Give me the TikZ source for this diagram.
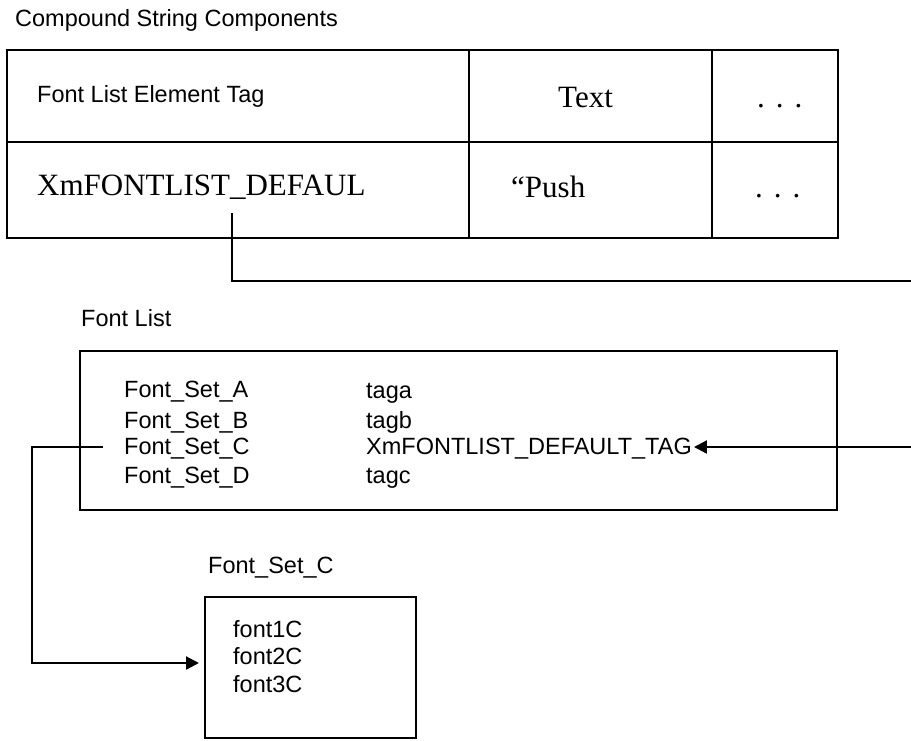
\documentclass[tikz,border=0pt]{standalone}
\usepackage{fontspec}
\newfontfamily\hv{Liberation Sans}
\newfontfamily\tm{Liberation Serif}
\usetikzlibrary{arrows.meta}
\tikzset{
  lbl/.style={anchor=base west, inner sep=0pt, font=\hv\fontsize{23.5}{28}\selectfont},
  slbl/.style={anchor=base west, inner sep=0pt, font=\tm\fontsize{31}{36}\selectfont},
  frame/.style={draw, line width=2.3pt, inner sep=0pt},
  tline/.style={line width=2.3pt},
  conn/.style={line width=2.2pt},
  tip/.style={-{Triangle[length=13pt,width=13pt]}}
}
\begin{document}
\begin{tikzpicture}[x=1pt,y=-1pt]
\useasboundingbox (0,0) rectangle (911,740);
\clip (0,0) rectangle (911,740);

% title
\node[lbl] (title) at (15,26) {Compound String Components};

% table
\coordinate (tnw) at (7,50);
\coordinate (tse) at (838,238);
\draw[tline] (tnw) rectangle (tse);
\draw[tline] (7,142) -- (838,142);
\draw[tline] (469,50) -- (469,238);
\draw[tline] (712,50) -- (712,238);

\node[lbl]  (tagh)  at (37,102)  {Font List Element Tag};
\node[slbl] (texth) at (558,107) {Text};
\node[slbl] (dots1) at (757,107) {.\hspace{11pt}.\hspace{11pt}.};
\node[slbl] (tagv)  at (37,195)  {XmFONTLIST\_DEFAUL};
\node[slbl] (push)  at (511,197) {“Push};
\node[slbl] (dots2) at (755,197) {.\hspace{11pt}.\hspace{11pt}.};

% font list
\node[lbl] (fl) at (81,326) {Font List};
\node[frame, minimum width=757pt, minimum height=159pt] (flbox) at (458.5,430.5) {};
\node[lbl] (fsa) at (124,397) {Font\_Set\_A};
\node[lbl] (fsb) at (124,428) {Font\_Set\_B};
\node[lbl] (fsc) at (124,454) {Font\_Set\_C};
\node[lbl] (fsd) at (124,483) {Font\_Set\_D};
\node[lbl] (taga) at (366,398) {taga};
\node[lbl] (tagb) at (366,428) {tagb};
\node[lbl] (fdef) at (366,454) {XmFONTLIST\_DEFAULT\_TAG};
\node[lbl] (tagc) at (366,483) {tagc};

% font set C
\node[lbl] (fscl) at (208,573) {Font\_Set\_C};
\node[frame, minimum width=211pt, minimum height=141pt] (fsbox) at (310.5,667.5) {};
\node[lbl] (f1) at (233,637) {font1C};
\node[lbl] (f2) at (233,664) {font2C};
\node[lbl] (f3) at (233,692) {font3C};

% connectors
\coordinate (c1s) at (232,213);
\coordinate (c1r) at (914,281);
\draw[conn,tip] (c1s) |- (c1r) |- ([xshift=2pt,yshift=7pt]fdef.base east);

\coordinate (c2c) at (32,447);
\coordinate (c2e) at (199,663);
\draw[conn,tip] ([xshift=-21pt,yshift=7pt]fsc.base west) -- (c2c) |- (c2e);
\end{tikzpicture}
\end{document}
